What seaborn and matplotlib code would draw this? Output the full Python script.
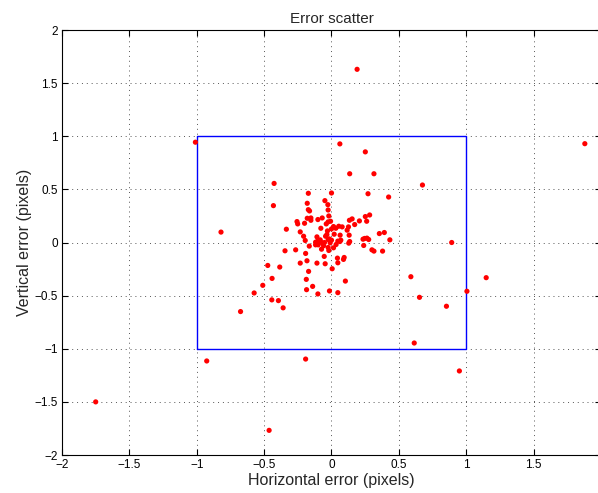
import matplotlib
matplotlib.use("Agg")
import matplotlib.pyplot as plt
import seaborn as sns
import pandas as pd

x_err = [0.062, 0.251, 0.135, 0.315, -0.426, -0.172, 0.000, 0.271, 0.424, -0.431,
         -0.180, -0.049, -0.027, -0.172, -0.163, -0.025, -0.256, -0.251, -0.180, -0.153,
         -0.153, -0.200, -0.101, -0.069, -0.020, -0.007, -0.025, -0.039, -0.079, 0.133,
         0.153, 0.207, 0.251, 0.283, 0.261, 0.172, 0.054, 0.032, 0.015, 0.079,
         0.126, 0.116, -0.335, -0.232, -0.030, 0.000, -0.034, -0.044, -0.207, -0.108,
         -0.017, -0.025, 0.020, 0.064, 0.047, 0.131, 0.355, 0.392, 0.246, 0.263,
         0.234, 0.276, 0.433, -0.195, -0.084, -0.101, -0.118, -0.074, -0.052, -0.010,
         0.000, 0.062, 0.069, 0.135, 0.128, -0.165, -0.118, -0.099, -0.059, -0.074,
         -0.025, -0.020, 0.015, 0.034, -0.345, -0.266, 0.239, 0.300, 0.315, 0.379,
         -0.192, -0.054, -0.232, -0.182, -0.108, -0.047, 0.044, 0.047, 0.094, 0.089,
         0.005, -0.473, -0.384, -0.170, -0.441, -0.187, 0.103, -0.510, -0.140, -0.185,
         0.589, -0.101, -0.015, 0.047, -0.574, -0.443, -0.394, 0.653,
         -0.359, -0.675, -0.926, -0.192,
         0.675, 0.892, 1.148, 1.005, 0.853, 0.614, 0.949,
         -1.010, -0.820, 0.190, 1.880, -1.750, -0.463]
y_err = [0.928, 0.853, 0.647, 0.647, 0.556, 0.463, 0.466, 0.459, 0.428, 0.347,
         0.369, 0.394, 0.356, 0.309, 0.297, 0.306, 0.197, 0.175, 0.228, 0.231,
         0.209, 0.181, 0.216, 0.231, 0.250, 0.200, 0.194, 0.175, 0.134, 0.209,
         0.222, 0.203, 0.244, 0.259, 0.200, 0.169, 0.153, 0.134, 0.150, 0.147,
         0.147, 0.116, 0.125, 0.100, 0.109, 0.128, 0.075, 0.059, 0.059, 0.053,
         0.034, 0.028, 0.078, 0.069, 0.013, 0.069, 0.084, 0.094, 0.038, 0.041,
         0.031, 0.028, 0.025, 0.019, 0.025, 0.016, 0.003, 0.000, 0.000, -0.003,
         0.022, 0.009, 0.022, 0.009, -0.006, -0.034, -0.022, -0.022, -0.031, -0.063,
         -0.047, -0.075, -0.050, -0.019, -0.078, -0.069, -0.028, -0.069, -0.081, -0.081,
         -0.103, -0.131, -0.194, -0.172, -0.194, -0.200, -0.147, -0.191, -0.141, -0.159,
         -0.247, -0.216, -0.231, -0.272, -0.338, -0.347, -0.363, -0.403, -0.413, -0.444,
         -0.322, -0.484, -0.456, -0.472, -0.475, -0.540, -0.547, -0.516,
         -0.615, -0.650, -1.115, -1.097,
         0.541, 0.000, -0.331, -0.459, -0.600, -0.946, -1.209,
         0.944, 0.098, 1.630, 0.930, -1.500, -1.768]

box_x = [-1, 1, 1, -1, -1]
box_y = [-1, -1, 1, 1, -1]
ticks = [-2, -1.5, -1, -0.5, 0, 0.5, 1, 1.5, 2]
tick_labels = ["\u22122", "\u22121.5", "\u22121", "\u22120.5", "0", "0.5", "1", "1.5", "2"]

sns.set_style("white")
plt.rcParams['font.family'] = ['Liberation Sans', 'DejaVu Sans']

df = pd.DataFrame({"x": x_err, "y": y_err})

fig = plt.figure(figsize=(5.98, 4.93), dpi=100)
ax = fig.add_axes([62/598, 38/493, 539/598, 425/493])

sns.lineplot(x=box_x, y=box_y, sort=False, estimator=None, color="#0000ff", lw=1.0, ax=ax)
sns.scatterplot(data=df, x="x", y="y", color="#ff0000", s=14, edgecolor="none", linewidth=0, ax=ax, zorder=3)

ax.set_xlim(-2, 2)
ax.set_ylim(-2, 2)
ax.set_xticks(ticks)
ax.set_xticklabels(tick_labels)
ax.set_yticks(ticks)
ax.set_yticklabels(tick_labels)
ax.grid(True, linestyle=(0, (1, 4)), color="#555555", lw=0.7)
ax.tick_params(direction="in", length=4, width=0.8, labelsize=8.5, colors="black",
               top=True, right=True, bottom=True, left=True, pad=3)
for s in ax.spines.values():
    s.set_color("black")
    s.set_linewidth(0.8)
ax.set_title("Error scatter", fontsize=11, pad=5)
ax.set_xlabel("Horizontal error (pixels)", fontsize=11.5, labelpad=1)
ax.set_ylabel("Vertical error (pixels)", fontsize=11.5, labelpad=2)

fig.savefig("out.png", dpi=100)
